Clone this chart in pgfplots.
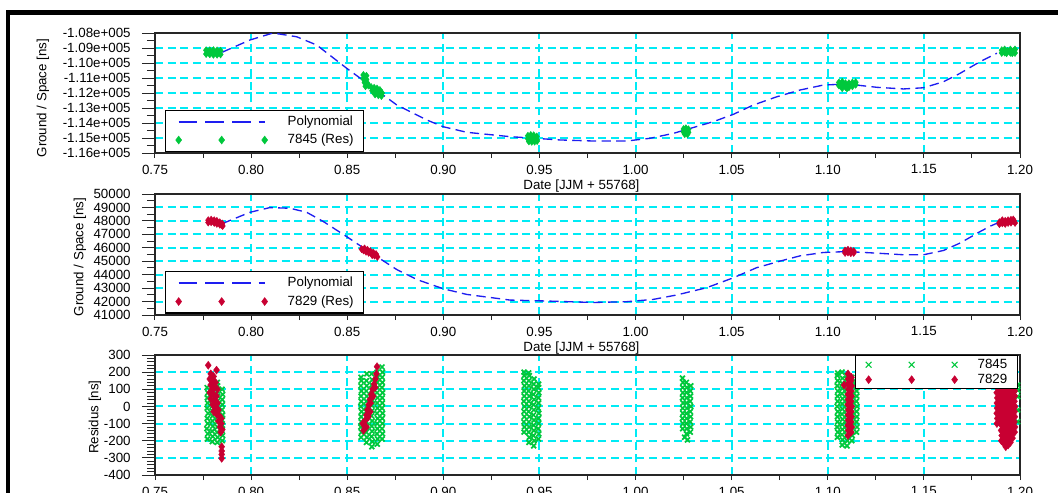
\documentclass[border=0pt]{standalone}
\usepackage{pgfplots}
\pgfplotsset{compat=1.18}
\usepackage{fontspec}
\setmainfont{Liberation Sans}
\definecolor{mygreen}{RGB}{0,200,60}
\definecolor{myred}{RGB}{200,0,50}
\definecolor{mycyan}{RGB}{0,235,245}
\definecolor{myblue}{RGB}{30,30,240}
\pgfplotsset{
  panel/.style={
    scale only axis, width=648.75pt,
    xmin=0.75, xmax=1.20,
    xtick={0.75,0.80,0.85,0.90,0.95,1.00,1.05,1.10,1.15,1.20},
    xticklabels={0.75,0.80,0.85,0.90,0.95,1.00,1.05,1.10,1.15,1.20},
    minor x tick num=1,
    scaled x ticks=false, scaled y ticks=false,
    tick align=outside, tick pos=left,
    xmajorgrids=true, ymajorgrids=true,
    grid style={mycyan, line width=1.5pt, dash pattern=on 6pt off 3.5pt},
    major grid style={mycyan, line width=1.5pt, dash pattern=on 6pt off 3.5pt},
    axis line style={black!85, line width=0.9pt},
    major tick length=9.75pt, minor tick length=6pt,
    xtick style={/pgfplots/major tick length=3.75pt,/pgfplots/minor tick length=3.75pt},
    tick style={black!85, line width=0.75pt},
    tick label style={font=\fontsize{10}{12}\selectfont, black},
    yticklabel style={xshift=-5pt},
    xticklabel style={yshift=4.5pt},
    label style={font=\fontsize{10}{12}\selectfont, black},
    xlabel={Date [JJM + 55768]},
    xlabel style={at={(axis description cs:0.493,-0.275)}, anchor=center},
    legend cell align=left,
    legend style={draw=black, line width=1pt, fill=white, inner xsep=7.5pt,
      font=\fontsize{10}{12}\selectfont,
      nodes={inner sep=0pt, text height=7.2pt, text depth=2pt},
      /tikz/every odd column/.append style={column sep=15pt}},
  },
  polyline/.style={myblue, line width=1pt, dash pattern=on 7pt off 4pt,
    legend image code/.code={\draw[##1, draw=myblue, line width=1.5pt, dash pattern=on 14pt off 6pt] (0pt,0pt) -- (64.5pt,0pt);}},
  dots/.style={only marks, mark=diamond*, mark size=2.7pt, #1,
    mark options={solid, fill=#1, draw=#1, line width=0.3pt},
    legend image code/.code={\draw[##1, mark size=3pt] plot coordinates {(0pt,0pt) (32.25pt,0pt) (64.5pt,0pt)};}},
  xmarks/.style={only marks, mark=x, mark size=2.6pt, #1,
    mark options={solid, draw=#1, line width=1.3pt},
    legend image code/.code={\draw[##1, mark size=3pt, mark options={line width=0.9pt}] plot coordinates {(0pt,0pt) (32.25pt,0pt) (64.5pt,0pt)};}},
}
\begin{document}
\begin{tikzpicture}[font=\fontsize{10}{12}\selectfont]
\useasboundingbox (0,0) rectangle (793.5pt,-369.75pt);
\fill[black] (4.5pt,-7.5pt) rectangle (793.5pt,-11.25pt);
\fill[black] (4.5pt,-7.5pt) rectangle (7.5pt,-369.75pt);

% ---------------- Panel 1 ----------------
\begin{axis}[panel, at={(116.25pt,-24.75pt)}, anchor=north west, height=90pt,
  ymin=-116000, ymax=-108000,
  ytick={-116000,-115000,-114000,-113000,-112000,-111000,-110000,-109000,-108000},
  yticklabels={-1.16e+005,-1.15e+005,-1.14e+005,-1.13e+005,-1.12e+005,-1.11e+005,-1.10e+005,-1.09e+005,-1.08e+005},
  minor y tick num=1,
  ylabel={Ground / Space [ns]},
  ylabel style={at={(axis description cs:-0.1295,0.458)}, anchor=center},
  legend style={at={(0.0116,0.008)}, anchor=south west, inner ysep=3.9pt, row sep=4.6pt},
]
\addplot[polyline] coordinates {
(0.7850,-109280)(0.7876,-109133)(0.7994,-108467)(0.8114,-108000)(0.8237,-108250)
(0.8341,-108800)(0.8497,-110350)(0.8625,-111550)(0.8758,-112800)(0.8914,-113800)
(0.9000,-114250)(0.9122,-114620)(0.9347,-114910)(0.9607,-115130)(0.9780,-115200)
(0.9954,-115200)(1.0075,-115020)(1.0197,-114690)(1.0405,-113910)(1.0509,-113420)
(1.0613,-112800)(1.0735,-112250)(1.0856,-111800)(1.0977,-111470)(1.1100,-111400)
(1.1255,-111620)(1.1394,-111730)(1.1498,-111650)(1.1602,-111250)(1.1688,-110690)
(1.1792,-109910)(1.1844,-109580)(1.1880,-109350)};
\addlegendentry{Polynomial}
\addplot[dots=mygreen] coordinates {
(0.7766,-109150)(0.7766,-109400)(0.7785,-109150)(0.7785,-109420)(0.7804,-109140)
(0.7804,-109450)(0.7823,-109160)(0.7823,-109450)(0.7841,-109180)(0.7841,-109430)
(0.7775,-109280)(0.7795,-109300)(0.7814,-109300)(0.7832,-109300)
(0.8584,-110800)(0.8600,-110850)(0.8584,-111050)(0.8600,-111100)(0.8590,-111300)
(0.8605,-111350)(0.8595,-111550)(0.8610,-111500)
(0.8624,-111600)(0.8640,-111650)(0.8655,-111700)(0.8630,-111850)(0.8648,-111900)
(0.8665,-111950)(0.8645,-112100)(0.8662,-112150)(0.8678,-112200)(0.8681,-112000)(0.8670,-111800)
(0.9440,-114850)(0.9455,-114800)(0.9470,-114820)(0.9486,-114900)(0.9440,-115050)
(0.9455,-115050)(0.9470,-115050)(0.9486,-115100)(0.9445,-115230)(0.9460,-115250)
(0.9475,-115240)(0.9488,-115200)
(1.0250,-114400)(1.0262,-114350)(1.0275,-114420)(1.0250,-114600)(1.0262,-114580)
(1.0275,-114620)(1.0256,-114740)(1.0270,-114750)
(1.1058,-111300)(1.1058,-111500)(1.1075,-111250)(1.1075,-111480)(1.1075,-111680)
(1.1092,-111350)(1.1092,-111600)(1.1110,-111350)(1.1110,-111620)(1.1128,-111300)
(1.1128,-111550)(1.1145,-111280)(1.1145,-111450)(1.1100,-111690)
(1.1905,-109150)(1.1905,-109330)(1.1920,-109100)(1.1920,-109300)(1.1935,-109200)
(1.1950,-109100)(1.1950,-109320)(1.1965,-109200)(1.1974,-109100)(1.1974,-109330)
(1.1930,-109350)(1.1960,-109350)};
\addlegendentry{7845 (Res)}
\end{axis}

% ---------------- Panel 2 ----------------
\begin{axis}[panel, at={(116.25pt,-145.5pt)}, anchor=north west, height=90.75pt,
  ymin=41000, ymax=50000,
  ytick={41000,42000,43000,44000,45000,46000,47000,48000,49000,50000},
  yticklabels={41000,42000,43000,44000,45000,46000,47000,48000,49000,50000},
  minor y tick num=1,
  ylabel={Ground / Space [ns]},
  ylabel style={at={(axis description cs:-0.0867,0.479)}, anchor=center},
  legend style={at={(0.0116,0.012)}, anchor=south west, inner ysep=3.9pt, row sep=4.6pt},
]
\addplot[polyline] coordinates {
(0.7850,47800)(0.7876,47950)(0.7994,48640)(0.8098,48990)(0.8202,48940)
(0.8289,48640)(0.8376,47950)(0.8497,46830)(0.8620,45650)(0.8758,44380)
(0.8862,43640)(0.9000,42950)(0.9122,42530)(0.9347,42110)(0.9538,42040)
(0.9780,41930)(0.9954,41990)(1.0092,42160)(1.0214,42490)(1.0370,43030)
(1.0509,43770)(1.0630,44520)(1.0752,45010)(1.0856,45400)(1.0977,45650)
(1.1100,45720)(1.1255,45600)(1.1394,45480)(1.1498,45480)(1.1602,45800)
(1.1688,46350)(1.1792,47200)(1.1844,47600)(1.1900,47950)};
\addlegendentry{Polynomial}
\addplot[dots=myred] coordinates {
(0.7777,48050)(0.7777,47880)(0.7792,48090)(0.7792,47900)(0.7808,48050)
(0.7808,47850)(0.7822,48000)(0.7822,47780)(0.7837,47900)(0.7837,47720)
(0.7850,47800)(0.7852,47620)(0.7845,47700)
(0.8575,45900)(0.8585,45800)(0.8590,45950)(0.8598,45700)(0.8605,45850)
(0.8612,45620)(0.8620,45750)(0.8628,45550)(0.8635,45650)(0.8642,45420)
(0.8650,45530)(0.8657,45320)(0.8630,45450)
(1.1090,45800)(1.1090,45620)(1.1105,45850)(1.1105,45650)(1.1120,45800)
(1.1120,45600)(1.1135,45750)(1.1135,45620)
(1.1893,47900)(1.1893,47760)(1.1908,48050)(1.1908,47820)(1.1923,48000)
(1.1923,47780)(1.1938,48050)(1.1938,47850)(1.1953,48080)(1.1953,47870)
(1.1968,48000)(1.1974,47850)(1.1965,48100)};
\addlegendentry{7829 (Res)}
\end{axis}

% ---------------- Panel 3 ----------------
\begin{axis}[panel, at={(116.25pt,-266.25pt)}, anchor=north west, height=90pt,
  ymin=-400, ymax=300,
  ytick={-400,-300,-200,-100,0,100,200,300},
  yticklabels={-400,-300,-200,-100,0,100,200,300},
  minor y tick num=4,
  xlabel={},
  ylabel={Residus [ns]},
  ylabel style={at={(axis description cs:-0.0694,0.483)}, anchor=center},
  legend style={at={(0.8092,1)}, anchor=north west, inner ysep=2.2pt, row sep=2pt},
]
\addplot[xmarks=mygreen] coordinates {
(0.7772,-190)(0.7775,-160)(0.7770,-130)(0.7774,-100)(0.7772,-70)(0.7776,-40)(0.7771,-10)(0.7774,20)(0.7772,50)(0.7775,80)(0.7771,110)
(0.7798,-205)(0.7800,-175)(0.7797,-145)(0.7801,-115)(0.7798,-85)(0.7800,-55)(0.7797,-25)(0.7800,5)(0.7798,35)(0.7801,65)(0.7798,95)(0.7800,125)
(0.7824,-210)(0.7826,-180)(0.7823,-150)(0.7825,-120)(0.7824,-90)(0.7826,-60)(0.7823,-30)(0.7825,0)(0.7824,30)(0.7826,60)(0.7823,90)(0.7825,120)(0.7824,140)
(0.7850,-200)(0.7852,-170)(0.7849,-140)(0.7851,-110)(0.7850,-80)(0.7852,-50)(0.7849,-20)(0.7851,10)(0.7850,40)(0.7852,70)(0.7849,100)
(0.8572,-180)(0.8574,-150)(0.8571,-120)(0.8573,-90)(0.8572,-60)(0.8574,-30)(0.8571,0)(0.8573,30)(0.8572,60)(0.8574,90)(0.8571,120)(0.8573,150)(0.8572,170)
(0.8600,-210)(0.8602,-180)(0.8599,-150)(0.8601,-120)(0.8600,-90)(0.8602,-60)(0.8599,-30)(0.8601,0)(0.8600,30)(0.8602,60)(0.8599,90)(0.8601,120)(0.8600,150)(0.8602,190)
(0.8628,-235)(0.8630,-205)(0.8627,-175)(0.8629,-145)(0.8628,-115)(0.8630,-85)(0.8627,-55)(0.8629,-25)(0.8628,5)(0.8630,35)(0.8627,65)(0.8629,95)(0.8628,125)(0.8630,155)(0.8627,190)
(0.8656,-220)(0.8658,-190)(0.8655,-160)(0.8657,-130)(0.8656,-100)(0.8658,-70)(0.8655,-40)(0.8657,-10)(0.8656,20)(0.8658,50)(0.8655,80)(0.8657,110)(0.8656,140)(0.8658,170)(0.8655,200)
(0.8682,-190)(0.8684,-160)(0.8681,-130)(0.8683,-100)(0.8682,-70)(0.8684,-40)(0.8681,-10)(0.8683,20)(0.8682,50)(0.8684,80)(0.8681,110)(0.8683,140)(0.8682,170)(0.8684,200)(0.8681,230)
(0.9420,-150)(0.9422,-120)(0.9419,-90)(0.9421,-60)(0.9420,-30)(0.9422,0)(0.9419,30)(0.9421,60)(0.9420,90)(0.9422,120)(0.9419,150)(0.9421,180)(0.9420,200)
(0.9445,-210)(0.9447,-180)(0.9444,-150)(0.9446,-120)(0.9445,-90)(0.9447,-60)(0.9444,-30)(0.9446,0)(0.9445,30)(0.9447,60)(0.9444,90)(0.9446,120)(0.9445,150)(0.9447,180)(0.9444,195)
(0.9470,-230)(0.9472,-200)(0.9469,-170)(0.9471,-140)(0.9470,-110)(0.9472,-80)(0.9469,-50)(0.9471,-20)(0.9470,10)(0.9472,40)(0.9469,70)(0.9471,100)(0.9470,130)(0.9472,160)
(0.9495,-190)(0.9497,-160)(0.9494,-130)(0.9496,-100)(0.9495,-70)(0.9497,-40)(0.9494,-10)(0.9496,20)(0.9495,50)(0.9497,80)(0.9494,110)(0.9496,130)
(1.0245,-130)(1.0247,-100)(1.0244,-70)(1.0246,-40)(1.0245,-10)(1.0247,20)(1.0244,50)(1.0246,80)(1.0245,110)(1.0247,140)(1.0244,165)
(1.0265,-160)(1.0267,-130)(1.0264,-100)(1.0266,-70)(1.0265,-40)(1.0267,-10)(1.0264,20)(1.0266,50)(1.0265,80)(1.0267,110)(1.0264,140)
(1.0285,-150)(1.0287,-120)(1.0284,-90)(1.0286,-60)(1.0285,-30)(1.0287,0)(1.0284,30)(1.0286,60)(1.0285,90)(1.0287,120)
(1.0270,-195)(1.0255,-180)
(1.1050,-180)(1.1052,-150)(1.1049,-120)(1.1051,-90)(1.1050,-60)(1.1052,-30)(1.1049,0)(1.1051,30)(1.1050,60)(1.1052,90)(1.1049,120)(1.1051,150)(1.1050,180)(1.1052,195)
(1.1075,-225)(1.1077,-195)(1.1074,-165)(1.1076,-135)(1.1075,-105)(1.1077,-75)(1.1074,-45)(1.1076,-15)(1.1075,15)(1.1077,45)(1.1074,75)(1.1076,105)(1.1075,135)(1.1077,165)(1.1074,200)
(1.1100,-230)(1.1102,-200)(1.1099,-170)(1.1101,-140)(1.1100,-110)(1.1102,-80)(1.1099,-50)(1.1101,-20)(1.1100,10)(1.1102,40)(1.1099,70)(1.1101,100)(1.1100,130)(1.1102,160)(1.1099,180)
(1.1125,-200)(1.1127,-170)(1.1124,-140)(1.1126,-110)(1.1125,-80)(1.1127,-50)(1.1124,-20)(1.1126,10)(1.1125,40)(1.1127,70)(1.1124,100)(1.1126,130)(1.1125,170)
(1.1150,-150)(1.1152,-120)(1.1149,-90)(1.1151,-60)(1.1150,-30)(1.1152,0)(1.1149,30)(1.1151,60)(1.1150,90)(1.1152,120)(1.1149,140)
(1.1988,125)(1.1988,95)(1.1988,57)(1.1988,-21)(1.1988,-89)};
\addlegendentry{7845}
\addplot[dots=myred, mark size=3pt] coordinates {
(0.7777,240)(0.7820,212)(0.7790,190)(0.7805,175)(0.7785,160)(0.7800,150)(0.7815,140)
(0.7790,125)(0.7810,110)(0.7825,100)(0.7795,95)(0.7785,80)(0.7805,70)(0.7820,60)
(0.7790,45)(0.7810,30)(0.7825,20)(0.7800,10)(0.7815,-5)(0.7830,-20)(0.7805,-30)
(0.7820,-45)(0.7835,-55)(0.7845,-70)(0.7830,-85)(0.7845,-100)(0.7838,-120)(0.7850,-135)
(0.7842,-150)(0.7847,-235)(0.7847,-260)(0.7847,-280)(0.7847,-303)
(0.8585,-140)(0.8590,-110)(0.8595,-80)(0.8600,-50)(0.8605,-20)(0.8612,10)(0.8618,40)
(0.8625,70)(0.8632,100)(0.8640,130)(0.8647,160)(0.8652,190)(0.8655,232)(0.8620,-31)
(0.8600,-120)(0.8610,-60)(0.8622,20)(0.8635,60)(0.8645,110)(0.8580,-100)
(1.1105,-170)(1.1107,-140)(1.1104,-110)(1.1106,-80)(1.1105,-50)(1.1107,-20)(1.1104,10)
(1.1106,40)(1.1105,70)(1.1107,100)(1.1104,130)(1.1106,160)(1.1105,190)
(1.1122,-150)(1.1124,-120)(1.1121,-90)(1.1123,-60)(1.1122,-30)(1.1124,0)(1.1121,30)
(1.1123,60)(1.1122,90)(1.1124,120)(1.1121,150)(1.1123,170)(1.1085,125)
(1.1880,-100)(1.1882,-70)(1.1879,-40)(1.1881,-10)(1.1880,20)(1.1882,50)(1.1879,80)(1.1881,110)(1.1880,140)
(1.1903,-200)(1.1905,-170)(1.1902,-140)(1.1904,-110)(1.1903,-80)(1.1905,-50)(1.1902,-20)(1.1904,10)(1.1903,40)(1.1905,70)(1.1902,100)(1.1904,130)(1.1903,160)
(1.1926,-235)(1.1928,-205)(1.1925,-175)(1.1927,-145)(1.1926,-115)(1.1928,-85)(1.1925,-55)(1.1927,-25)(1.1926,5)(1.1928,35)(1.1925,65)(1.1927,95)(1.1926,125)(1.1928,155)(1.1925,170)
(1.1950,-210)(1.1952,-180)(1.1949,-150)(1.1951,-120)(1.1950,-90)(1.1952,-60)(1.1949,-30)(1.1951,0)(1.1950,30)(1.1952,60)(1.1949,90)(1.1951,120)(1.1950,150)(1.1952,165)
(1.1972,-150)(1.1974,-120)(1.1971,-90)(1.1973,-60)(1.1972,-30)(1.1974,0)(1.1971,30)(1.1973,60)(1.1972,90)(1.1974,120)(1.1971,140)
(1.1891,-85)(1.1892,-55)(1.1891,-25)(1.1892,5)(1.1891,35)(1.1892,65)(1.1891,95)(1.1892,125)
(1.1915,-215)(1.1916,-185)(1.1915,-155)(1.1916,-125)(1.1915,-95)(1.1916,-65)(1.1915,-35)(1.1916,-5)(1.1915,25)(1.1916,55)(1.1915,85)(1.1916,115)(1.1915,145)(1.1916,168)
(1.1938,-225)(1.1939,-195)(1.1938,-165)(1.1939,-135)(1.1938,-105)(1.1939,-75)(1.1938,-45)(1.1939,-15)(1.1938,15)(1.1939,45)(1.1938,75)(1.1939,105)(1.1938,135)(1.1939,165)
(1.1961,-185)(1.1962,-155)(1.1961,-125)(1.1962,-95)(1.1961,-65)(1.1962,-35)(1.1961,-5)(1.1962,25)(1.1961,55)(1.1962,85)(1.1961,115)(1.1962,145)};
\addlegendentry{7829}
\end{axis}
\end{tikzpicture}
\end{document}
